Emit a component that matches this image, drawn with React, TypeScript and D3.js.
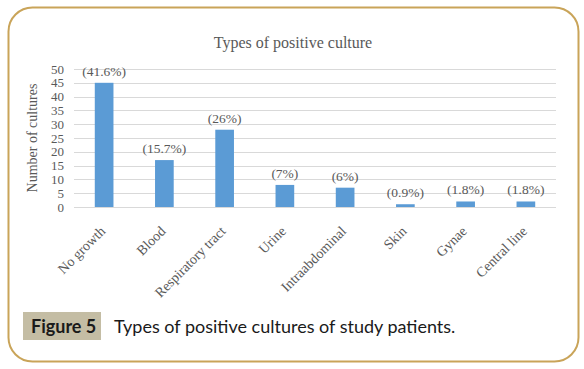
import * as d3 from "d3"
import React, { useEffect, useRef } from "react"

const categories = ["No growth", "Blood", "Respiratory tract", "Urine", "Intraabdominal", "Skin", "Gynae", "Central line"]
const counts = [45, 17, 28, 8, 7, 1, 2, 2]
const percentLabels = ["(41.6%)", "(15.7%)", "(26%)", "(7%)", "(6%)", "(0.9%)", "(1.8%)", "(1.8%)"]
const yTicks = [0, 5, 10, 15, 20, 25, 30, 35, 40, 45, 50]

const width = 584
const height = 369
const serif = "'Liberation Serif', 'DejaVu Serif', serif"
const textGrey = "#595959"

const App = () => {
    const refSvg = useRef(null)

    useEffect(() => {
        const svg = d3.select(refSvg.current)
        svg.selectAll("*").remove()

        // outer frame
        svg.append("rect")
            .attr("x", 8.5).attr("y", 7.5)
            .attr("width", 570).attr("height", 354)
            .attr("rx", 24).attr("ry", 24)
            .attr("fill", "#fff")
            .attr("stroke", "#c9a459")
            .attr("stroke-width", 2)

        const scaleX = d3.scaleBand()
            .domain(categories)
            .range([74, 556])
            .paddingInner(0.69)
            .paddingOuter(0.345)
        const scaleY = d3.scaleLinear()
            .domain([0, 50])
            .range([207, 69])

        // gridlines
        svg.append("g")
            .selectAll("line")
            .data(yTicks)
            .join("line")
            .attr("x1", 74).attr("x2", 556)
            .attr("y1", d => Math.round(scaleY(d)) + 0.5)
            .attr("y2", d => Math.round(scaleY(d)) + 0.5)
            .attr("stroke", "#d9d9d9")
            .attr("stroke-width", 1)

        // y tick labels
        svg.append("g")
            .selectAll("text")
            .data(yTicks)
            .join("text")
            .attr("x", 64)
            .attr("y", d => scaleY(d))
            .attr("dy", "0.35em")
            .attr("text-anchor", "end")
            .attr("font-family", serif)
            .attr("font-size", 13)
            .attr("fill", textGrey)
            .text(d => d)

        // bars
        svg.append("g")
            .selectAll("rect")
            .data(counts)
            .join("rect")
            .attr("x", (d, i) => scaleX(categories[i]))
            .attr("y", d => scaleY(d))
            .attr("width", scaleX.bandwidth())
            .attr("height", d => scaleY(0) - scaleY(d))
            .attr("fill", "#5b9bd5")

        // data labels
        svg.append("g")
            .selectAll("text")
            .data(counts)
            .join("text")
            .attr("x", (d, i) => scaleX(categories[i]) + scaleX.bandwidth() / 2)
            .attr("y", d => scaleY(d) - 7)
            .attr("text-anchor", "middle")
            .attr("font-family", serif)
            .attr("font-size", 13.5)
            .attr("fill", textGrey)
            .text((d, i) => percentLabels[i])

        // category labels
        svg.append("g")
            .selectAll("text")
            .data(categories)
            .join("text")
            .attr("transform", d => `translate(${scaleX(d) + scaleX.bandwidth() / 2 + 2}, 232) rotate(-45)`)
            .attr("text-anchor", "end")
            .attr("font-family", serif)
            .attr("font-size", 14)
            .attr("fill", textGrey)
            .text(d => d)

        // title
        svg.append("text")
            .attr("x", 293).attr("y", 48)
            .attr("text-anchor", "middle")
            .attr("font-family", serif)
            .attr("font-size", 16)
            .attr("fill", textGrey)
            .text("Types of positive culture")

        // y axis title
        svg.append("text")
            .attr("transform", "translate(37, 138) rotate(-90)")
            .attr("text-anchor", "middle")
            .attr("font-family", serif)
            .attr("font-size", 14)
            .attr("fill", textGrey)
            .text("Number of cultures")

        // figure caption
        svg.append("rect")
            .attr("x", 23).attr("y", 312)
            .attr("width", 78).attr("height", 28)
            .attr("fill", "#c4bda4")
        svg.append("text")
            .attr("x", 31).attr("y", 333)
            .attr("font-family", "Lato, 'Open Sans', sans-serif")
            .attr("font-weight", "bold")
            .attr("font-size", 18)
            .attr("fill", "#1a1a1a")
            .text("Figure 5")
        svg.append("text")
            .attr("x", 114).attr("y", 333)
            .attr("font-family", "Lato, 'Open Sans', sans-serif")
            .attr("font-size", 18)
            .attr("fill", "#1a1a1a")
            .text("Types of positive cultures of study patients.")
    }, [])

    return (
        <svg ref={refSvg} width={width} height={height}
            style={{ position: "absolute", left: 0, top: 0, display: "block", background: "#fff" }}></svg>
    )
}

export default App
